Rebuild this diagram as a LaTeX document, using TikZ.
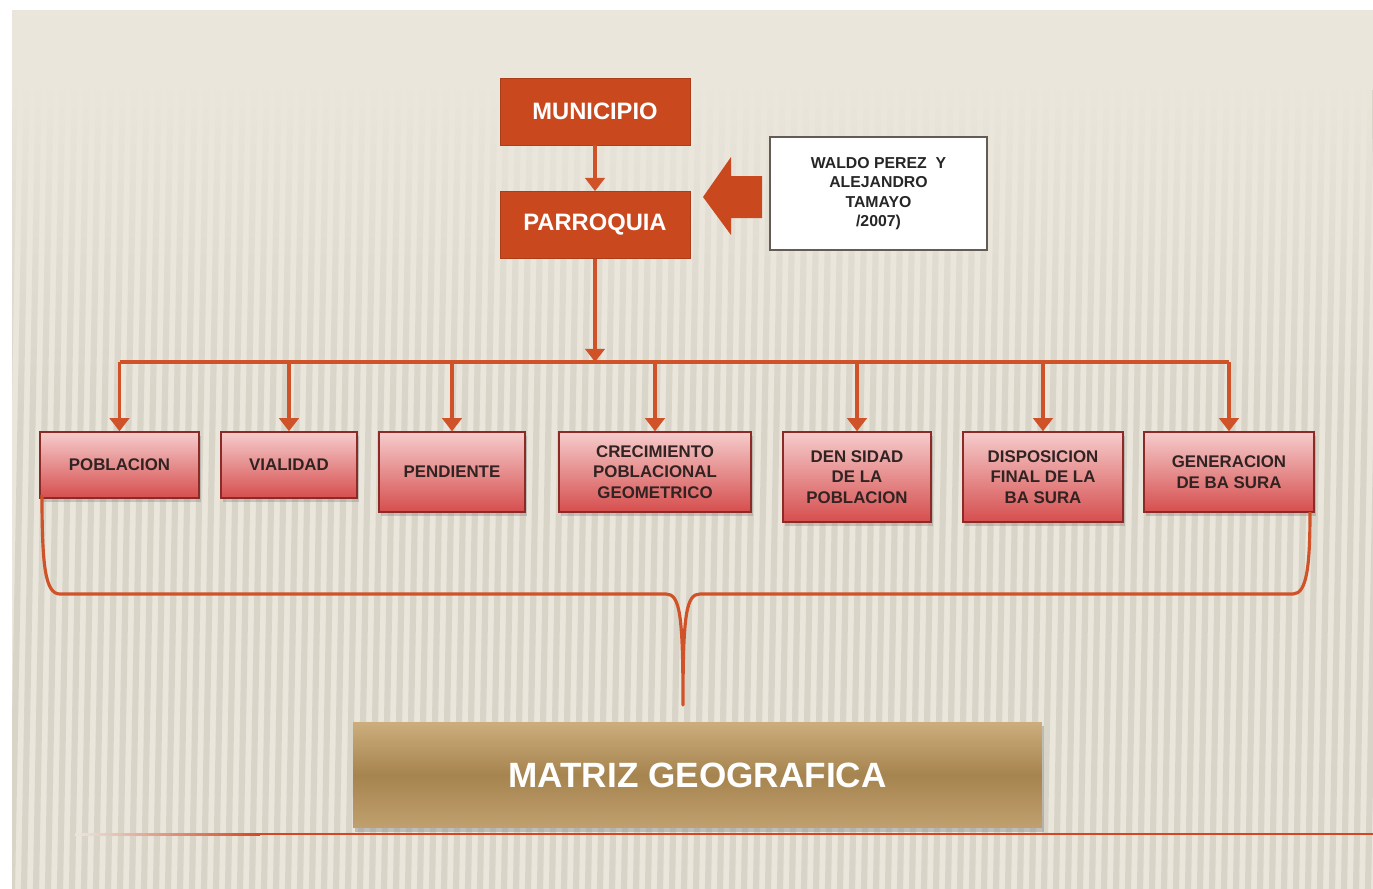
\documentclass[tikz,border=0pt]{standalone}
\usepackage{fontspec}
\setmainfont{Liberation Sans}
\usetikzlibrary{arrows.meta,shadows,fadings}
\definecolor{orangebox}{RGB}{201,72,30}
\definecolor{linkcol}{RGB}{208,82,40}
\definecolor{itemtop}{RGB}{246,204,204}
\definecolor{itembot}{RGB}{214,78,78}
\definecolor{itemborder}{RGB}{140,42,40}
\definecolor{itemtext}{RGB}{50,35,35}
\definecolor{tantop}{RGB}{204,174,124}
\definecolor{tanmid}{RGB}{166,132,80}
\definecolor{tanbot}{RGB}{192,160,110}
\definecolor{beige}{RGB}{234,230,220}
\definecolor{stripecol}{RGB}{206,200,188}
\definecolor{refborder}{RGB}{100,90,86}
\tikzfading[name=fadedown, top color=transparent!0, bottom color=transparent!100]

\begin{document}
\begin{tikzpicture}[x=0.02cm,y=-0.02cm,
  topbox/.style={draw=orangebox!85!black, fill=orangebox, text=white,
    font=\bfseries\fontsize{13.5}{16}\selectfont, minimum width=3.8cm, minimum height=1.34cm},
  itembox/.style={draw=itemborder, line width=0.8pt, top color=itemtop, bottom color=itembot,
    text=itemtext, font=\bfseries\fontsize{9.6}{11.8}\selectfont, align=center, inner sep=2pt,
    drop shadow={opacity=0.35, shadow xshift=1pt, shadow yshift=-2.5pt}},
  link/.style={draw=linkcol, line width=2pt},
  down/.style={link, -{Triangle[length=7.5pt,width=11pt]}}]
  % background
  \useasboundingbox (0,0) rectangle (1373,889);
  \fill[white] (0,0) rectangle (1373,889);
  \fill[beige] (12,10) rectangle (1373,889);
  \begin{scope}
    \clip (12,10) rectangle (1373,889);
    \foreach \x in {16,28,...,1390}
      \draw[stripecol, line width=3.5pt, opacity=0.6] (\x,10) -- (\x-16,889);
    \fill[beige] (12,10) rectangle (1373,90);
    \fill[beige, path fading=fadedown] (12,89) rectangle (1373,420);
  \end{scope}

  % top part
  \node[topbox] (mun) at (595,111.5) {MUNICIPIO};
  \node[topbox] (par) at (595,225) {PARROQUIA};
  \node[draw=refborder, line width=1.2pt, fill=white, minimum width=4.34cm, minimum height=2.26cm,
    align=center, font=\bfseries\fontsize{9}{11}\selectfont, text=black!85] (ref) at (878.5,193.5)
    {WALDO PEREZ \ Y\\ALEJANDRO\\TAMAYO\\/2007)};
  \fill[orangebox] (762,176) -- (731,176) -- (731,157) -- (703,197) -- (731,235) -- (731,218)
    -- (762,218) -- cycle;
  \draw[down] (mun) -- (par);

  % items
  \node[itembox, minimum width=3.18cm, minimum height=1.32cm] (pob) at (119.5,465) {POBLACION};
  \node[itembox, minimum width=2.72cm, minimum height=1.32cm] (via) at (289,465) {VIALIDAD};
  \node[itembox, minimum width=2.92cm, minimum height=1.6cm] (pen) at (452,472) {PENDIENTE};
  \node[itembox, minimum width=3.84cm, minimum height=1.6cm] (cre) at (655,472)
    {CRECIMIENTO\\POBLACIONAL\\GEOMETRICO};
  \node[itembox, minimum width=2.96cm, minimum height=1.8cm] (den) at (857,477)
    {DEN SIDAD\\DE LA\\POBLACION};
  \node[itembox, minimum width=3.2cm, minimum height=1.8cm] (dis) at (1043,477)
    {DISPOSICION\\FINAL DE LA\\BA SURA};
  \node[itembox, minimum width=3.4cm, minimum height=1.6cm] (gen) at (1229,472)
    {GENERACION\\DE BA SURA};

  % connectors
  \coordinate (bar) at (595,362);
  \draw[down] (par) -- (bar);
  \draw[link] (pob.north |- bar) -- (gen.north |- bar);
  \foreach \n in {pob,via,pen,cre,den,dis,gen}
    \draw[down] (\n.north |- bar) -- (\n.north);

  % brace
  \coordinate (tip) at (683,705);
  \draw[link, line width=1.8pt, line join=round] (42,495) .. controls (42,565) and (45,594) .. (60,594)
    -- (666,594) .. controls (680,594) and (683,615) .. (tip)
    .. controls (683,615) and (686,594) .. (700,594) -- (1293,594)
    .. controls (1307,594) and (1310,565) .. (1310,512);

  % bottom
  \shade[left color=beige, right color=linkcol!85!red] (75,833) rectangle (260,835);
  \fill[linkcol!85!red] (259.5,833) rectangle (1373,835);
  \node[minimum width=13.78cm, minimum height=2.12cm, top color=tantop, bottom color=tanbot,
    middle color=tanmid, text=white, font=\bfseries\fontsize{20}{24}\selectfont,
    drop shadow={opacity=0.4, shadow xshift=1pt, shadow yshift=-2.5pt}] (matriz) at (697.5,775)
    {MATRIZ GEOGRAFICA};
\end{tikzpicture}
\end{document}
